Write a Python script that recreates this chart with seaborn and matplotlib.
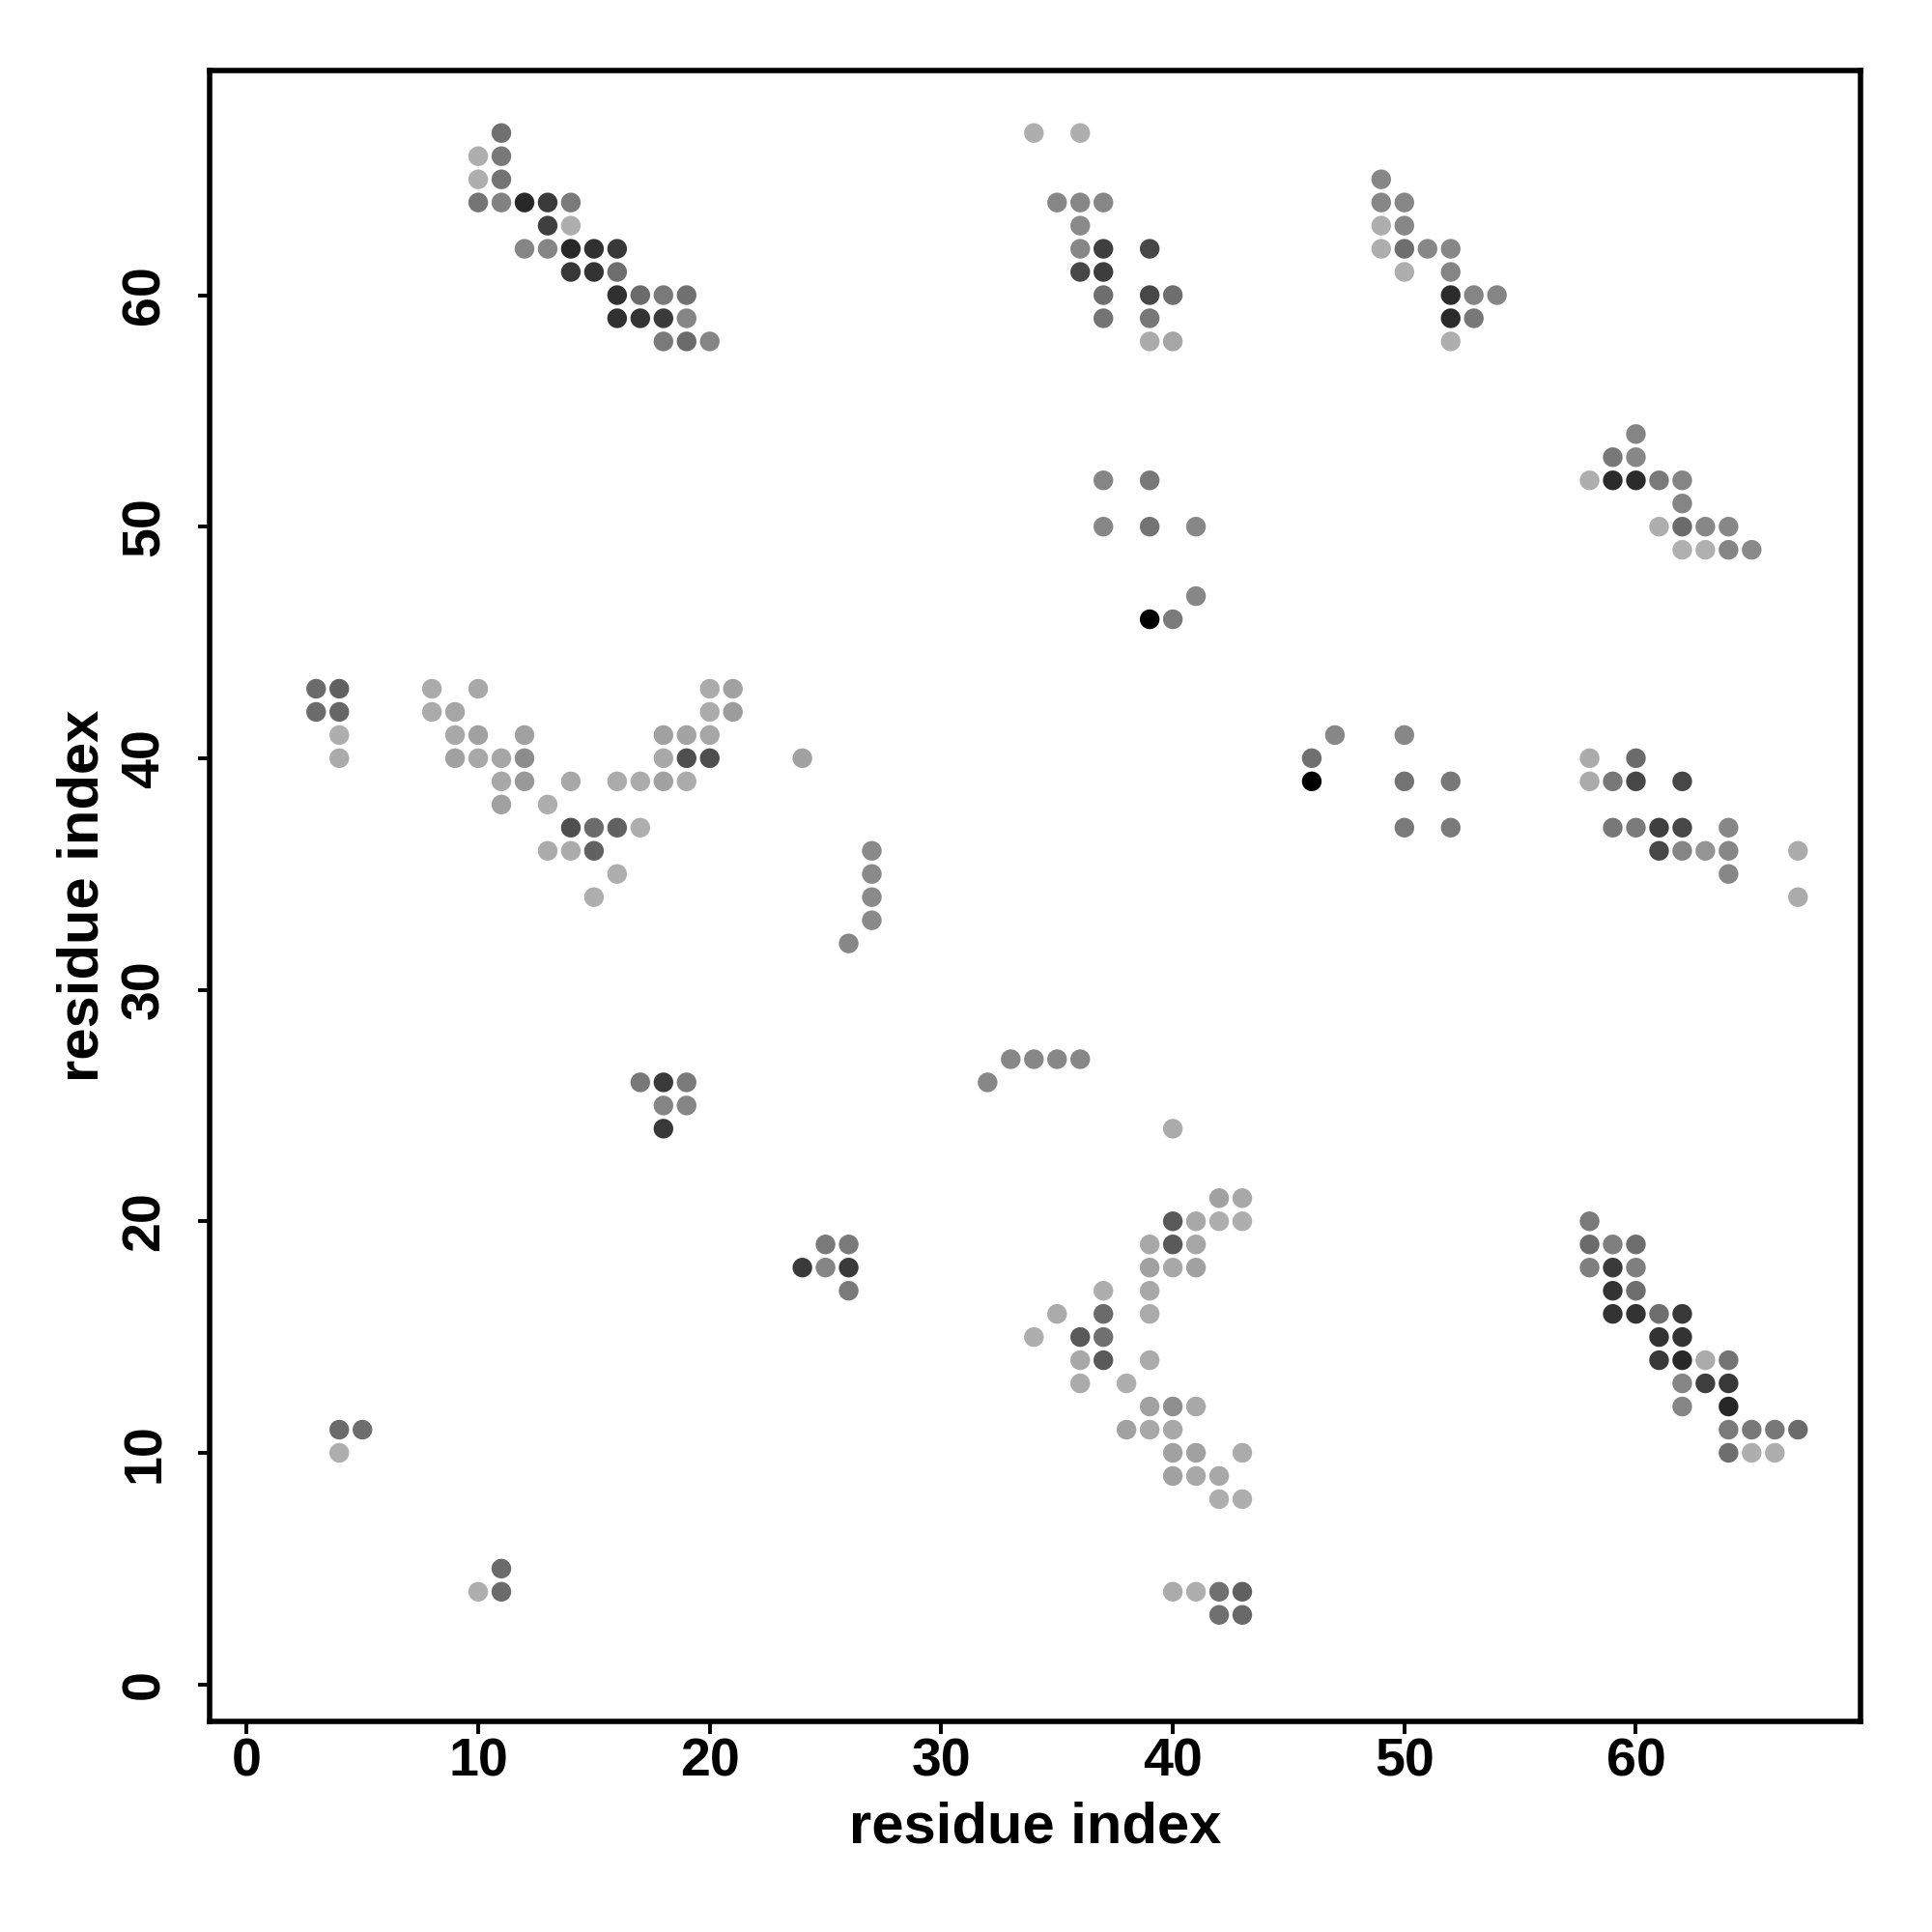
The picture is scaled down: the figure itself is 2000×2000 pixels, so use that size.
import matplotlib
matplotlib.use("Agg")
import matplotlib.pyplot as plt
import seaborn as sns
import pandas as pd

# contact map: residue i (x), residue j (y), contact strength (0..1 -> white..black)
res_i = [
    11, 10, 11, 10, 11, 10, 11, 12, 13, 14, 13, 14, 12, 13, 14, 15, 16, 14, 15, 16,
    16, 17, 18, 19, 16, 17, 18, 19, 18, 19, 20,
    34, 36, 35, 36, 37, 36, 36, 37, 39, 36, 37, 37, 39, 40, 37, 39, 39, 40,
    49, 49, 50, 49, 50, 49, 50, 51, 52, 50, 52, 52, 53, 54, 52, 53, 52,
    60, 59, 60, 58, 59, 60, 61, 62, 62, 61, 62, 63, 64, 62, 63, 64, 65,
    37, 39, 37, 39, 41, 41, 39, 40,
    3, 4, 8, 10, 20, 21, 3, 4, 8, 9, 20, 21,
    4, 9, 10, 12, 18, 19, 20, 4, 9, 10, 11, 12, 18, 19, 20,
    11, 12, 14, 16, 17, 18, 19, 11, 13, 14, 15, 16, 17, 13, 14, 15, 16, 15,
    24, 27, 27, 27, 27, 26,
    47, 50, 46, 46, 50, 52, 50, 52,
    58, 60, 58, 59, 60, 62, 59, 60, 61, 62, 64, 61, 62, 63, 64, 67, 64, 67,
    33, 34, 35, 36, 17, 18, 19, 32, 18, 19, 18, 40,
    42, 43, 40, 41, 42, 43, 25, 26, 39, 40, 41, 24, 25, 26, 39, 40, 41,
    26, 37, 39, 35, 37, 39, 34, 36, 37, 36, 37, 39, 36, 38,
    39, 40, 41, 38, 39, 40, 40, 41, 43, 40, 41, 42, 42, 43,
    40, 41, 42, 43, 42, 43,
    58, 58, 59, 60, 58, 59, 60, 59, 60, 59, 60, 61, 62, 61, 62,
    61, 62, 63, 64, 62, 63, 64, 62, 64, 64, 65, 66, 67, 64, 65, 66,
    4, 5, 4, 11, 10, 11,
]
res_j = [
    67, 66, 66, 65, 65, 64, 64, 64, 64, 64, 63, 63, 62, 62, 62, 62, 62, 61, 61, 61,
    60, 60, 60, 60, 59, 59, 59, 59, 58, 58, 58,
    67, 67, 64, 64, 64, 63, 62, 62, 62, 61, 61, 60, 60, 60, 59, 59, 58, 58,
    65, 64, 64, 63, 63, 62, 62, 62, 62, 61, 61, 60, 60, 60, 59, 59, 58,
    54, 53, 53, 52, 52, 52, 52, 52, 51, 50, 50, 50, 50, 49, 49, 49, 49,
    52, 52, 50, 50, 50, 47, 46, 46,
    43, 43, 43, 43, 43, 43, 42, 42, 42, 42, 42, 42,
    41, 41, 41, 41, 41, 41, 41, 40, 40, 40, 40, 40, 40, 40, 40,
    39, 39, 39, 39, 39, 39, 39, 38, 38, 37, 37, 37, 37, 36, 36, 36, 35, 34,
    40, 36, 35, 34, 33, 32,
    41, 41, 40, 39, 39, 39, 37, 37,
    40, 40, 39, 39, 39, 39, 37, 37, 37, 37, 37, 36, 36, 36, 36, 36, 35, 34,
    27, 27, 27, 27, 26, 26, 26, 26, 25, 25, 24, 24,
    21, 21, 20, 20, 20, 20, 19, 19, 19, 19, 19, 18, 18, 18, 18, 18, 18,
    17, 17, 17, 16, 16, 16, 15, 15, 15, 14, 14, 14, 13, 13,
    12, 12, 12, 11, 11, 11, 10, 10, 10, 9, 9, 9, 8, 8,
    4, 4, 4, 4, 3, 3,
    20, 19, 19, 19, 18, 18, 18, 17, 17, 16, 16, 16, 16, 15, 15,
    14, 14, 14, 14, 13, 13, 13, 12, 12, 11, 11, 11, 11, 10, 10, 10,
    11, 11, 10, 5, 4, 4,
]
contact = [
    0.56, 0.32, 0.53, 0.32, 0.55, 0.54, 0.49, 0.84, 0.77, 0.52, 0.75, 0.32, 0.48, 0.48, 0.84, 0.81, 0.78, 0.78, 0.80, 0.57,
    0.81, 0.58, 0.52, 0.56, 0.81, 0.80, 0.77, 0.48, 0.52, 0.58, 0.48,
    0.32, 0.32, 0.47, 0.47, 0.47, 0.46, 0.47, 0.75, 0.72, 0.72, 0.76, 0.57, 0.72, 0.57, 0.55, 0.53, 0.33, 0.35,
    0.47, 0.47, 0.47, 0.32, 0.47, 0.32, 0.57, 0.47, 0.47, 0.32, 0.48, 0.83, 0.48, 0.48, 0.83, 0.53, 0.32,
    0.48, 0.53, 0.47, 0.32, 0.83, 0.83, 0.52, 0.48, 0.48, 0.32, 0.58, 0.47, 0.47, 0.31, 0.31, 0.48, 0.46,
    0.48, 0.53, 0.47, 0.55, 0.47, 0.47, 1.00, 0.52,
    0.58, 0.62, 0.33, 0.34, 0.33, 0.37, 0.58, 0.60, 0.33, 0.35, 0.33, 0.39,
    0.32, 0.34, 0.37, 0.37, 0.37, 0.36, 0.35, 0.33, 0.37, 0.34, 0.35, 0.45, 0.34, 0.69, 0.69,
    0.34, 0.40, 0.34, 0.33, 0.33, 0.37, 0.33, 0.37, 0.32, 0.69, 0.58, 0.62, 0.32, 0.33, 0.33, 0.62, 0.32, 0.32,
    0.37, 0.46, 0.46, 0.46, 0.46, 0.47,
    0.47, 0.47, 0.56, 1.00, 0.55, 0.53, 0.52, 0.52,
    0.33, 0.58, 0.33, 0.53, 0.72, 0.72, 0.53, 0.52, 0.75, 0.72, 0.47, 0.72, 0.48, 0.42, 0.47, 0.33, 0.47, 0.33,
    0.47, 0.47, 0.47, 0.47, 0.53, 0.77, 0.52, 0.47, 0.48, 0.48, 0.78, 0.33,
    0.37, 0.34, 0.65, 0.34, 0.32, 0.32, 0.52, 0.52, 0.34, 0.65, 0.35, 0.77, 0.48, 0.77, 0.37, 0.34, 0.37,
    0.52, 0.32, 0.34, 0.33, 0.58, 0.33, 0.32, 0.65, 0.56, 0.34, 0.65, 0.33, 0.33, 0.32,
    0.37, 0.44, 0.34, 0.37, 0.34, 0.34, 0.37, 0.37, 0.33, 0.37, 0.34, 0.34, 0.32, 0.32,
    0.33, 0.32, 0.56, 0.62, 0.56, 0.59,
    0.52, 0.58, 0.50, 0.57, 0.50, 0.77, 0.50, 0.80, 0.57, 0.80, 0.80, 0.57, 0.78, 0.80, 0.80,
    0.78, 0.84, 0.33, 0.55, 0.48, 0.75, 0.78, 0.48, 0.85, 0.52, 0.53, 0.53, 0.58, 0.57, 0.32, 0.32,
    0.58, 0.57, 0.32, 0.58, 0.32, 0.58,
]

ticks = [0, 10, 20, 30, 40, 50, 60]

df = pd.DataFrame({"i": res_i, "j": res_j, "contact": contact})

sns.set_style("ticks")
plt.rcParams["font.family"] = ["Liberation Sans", "DejaVu Sans"]
plt.rcParams["font.weight"] = "bold"
plt.rcParams["text.color"] = "black"
plt.rcParams["axes.labelcolor"] = "black"
plt.rcParams["xtick.color"] = "black"
plt.rcParams["ytick.color"] = "black"

fig = plt.figure(figsize=(20, 20), dpi=100)
ax = fig.add_axes([0.1085, 0.109, 0.8545, 0.8545])

sns.scatterplot(data=df, x="i", y="j", hue="contact", palette="gray_r",
                hue_norm=(0, 1), s=215, linewidth=0, legend=False, ax=ax)

ax.set_xlim(-1.6, 69.7)
ax.set_ylim(-1.6, 69.7)
ax.set_xticks(ticks)
ax.set_yticks(ticks)
ax.set_xticklabels([str(t) for t in ticks], fontsize=40, fontweight="bold")
ax.set_yticklabels([str(t) for t in ticks], fontsize=40, fontweight="bold",
                   rotation=90, va="center")
ax.tick_params(axis="both", direction="out", length=9, width=2.8,
               color="black", labelcolor="black")
ax.tick_params(axis="x", pad=3)
ax.tick_params(axis="y", pad=20)
for sp in ax.spines.values():
    sp.set_visible(True)
    sp.set_linewidth(4)
    sp.set_color("black")

ax.set_xlabel("residue index", fontsize=43, fontweight="bold", labelpad=10)
ax.set_ylabel("residue index", fontsize=43, fontweight="bold", labelpad=8)

fig.savefig("out.png", dpi=100, facecolor="white")
